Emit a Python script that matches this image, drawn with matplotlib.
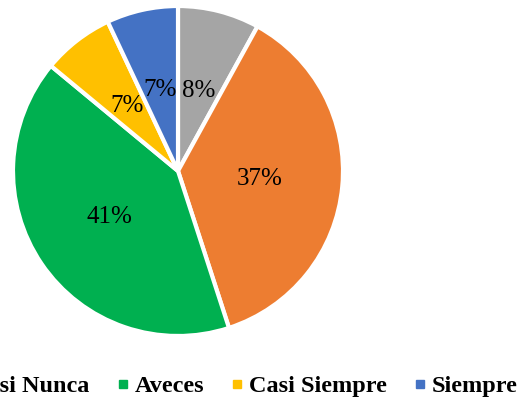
import matplotlib
matplotlib.use("Agg")
import matplotlib.pyplot as plt
from matplotlib.lines import Line2D

categories = ["Nunca", "Casi Nunca", "Aveces", "Casi Siempre", "Siempre"]
values = [8, 37, 41, 7, 7]
colors = ["#A5A5A5", "#ED7D31", "#00B050", "#FFC000", "#4472C4"]

W, H = 520, 405
fig = plt.figure(figsize=(W / 100, H / 100), dpi=100)
fig.patch.set_facecolor("white")

cx, cy, r = 178, 171, 165
ax = fig.add_axes([(cx - r) / W, 1 - (cy + r) / H, 2 * r / W, 2 * r / H])
wedges, texts, autotexts = ax.pie(
    values, colors=colors, startangle=90, counterclock=False,
    autopct="%1.0f%%", pctdistance=0.5, radius=1,
    wedgeprops=dict(edgecolor="white", linewidth=3),
    textprops=dict(family="Liberation Serif", fontsize=18, color="black"),
)
ax.set_xlim(-1, 1)
ax.set_ylim(-1, 1)
ax.set_aspect("equal")
ax.axis("off")

handles = [Line2D([0], [0], marker="s", linestyle="none", markersize=6,
                  markerfacecolor=c, markeredgecolor=c) for c in colors]
fig.legend(handles, categories, loc="center right",
           bbox_to_anchor=(518 / W, 1 - 386 / H), ncol=5, frameon=False,
           borderpad=0, borderaxespad=0, handlelength=0.5, handletextpad=0.25,
           columnspacing=1.1,
           prop=dict(family="Liberation Serif", weight="bold", size=17.5))

fig.savefig("out.png", dpi=100)
